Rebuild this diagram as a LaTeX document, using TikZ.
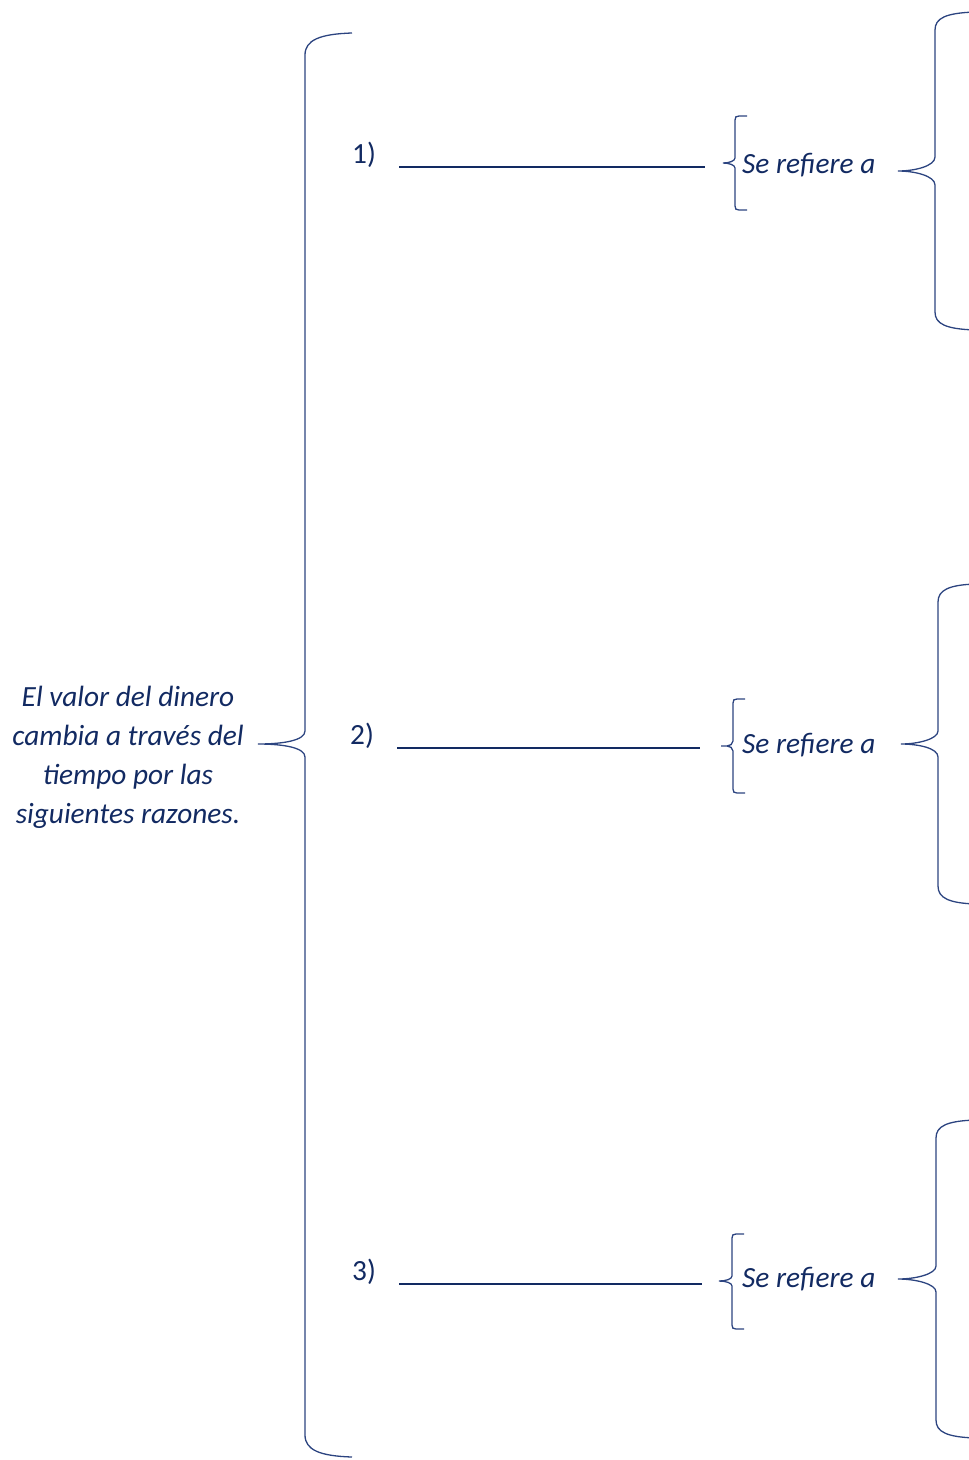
\documentclass[tikz,border=0pt]{standalone}
\usepackage{fontspec}
\setmainfont{Carlito}
\definecolor{ink}{RGB}{18,42,98}
\definecolor{bracecol}{RGB}{44,68,128}
\tikzset{
  bodytext/.style={text=ink, font=\fontsize{29.3}{39}\selectfont\itshape, inner sep=0pt},
  numtext/.style={text=ink, font=\fontsize{29.3}{39}\selectfont, inner sep=0pt, anchor=base west},
  refer/.style={text=ink, font=\fontsize{29.3}{39}\selectfont\itshape, inner sep=0pt, anchor=base west},
  blank/.style={draw=ink, line width=2.3pt},
  bracket/.style={draw=bracecol, line width=1.3pt},
}
\begin{document}
\begin{tikzpicture}[x=1pt,y=-1pt]
\useasboundingbox (0,0) rectangle (969,1460);

% main statement
\node[bodytext, align=center] (stmt) at (128,757)
  {El valor del dinero\\ cambia a través del\\ tiempo por las\\ siguientes razones.};

% large left brace grouping the three reasons
\coordinate (mainTip) at (258,744);
\draw[bracket] (352,33) .. controls (320,34) and (305,40) .. (305,55)
  -- (305,731) .. controls (305,740) and (285,744) .. (mainTip)
  .. controls (285,744) and (305,748) .. (305,757)
  -- (305,1435) .. controls (305,1450) and (320,1456) .. (352,1457);

% reason 1
\node[numtext] (n1) at (352,163) {1)};
\coordinate (b1s) at (399,167); \coordinate (b1e) at (705,167);
\draw[blank] (b1s) -- (b1e);
\coordinate (s1) at (723,163);
\draw[bracket] (747,116) -- (739,116) .. controls (736,116) and (735,117) .. (735,120)
  -- (735,158) .. controls (735,161) and (729,163) .. (s1)
  .. controls (729,163) and (735,165) .. (735,168)
  -- (735,206) .. controls (735,209) and (736,210) .. (739,210) -- (747,210);
\node[refer] (r1) at (742,173) {Se refiere a};
\coordinate (t1) at (898,171);
\draw[bracket] (975,12) .. controls (946,13) and (935,18) .. (935,30)
  -- (935,157) .. controls (935,166) and (915,171) .. (t1)
  .. controls (915,171) and (935,176) .. (935,185)
  -- (935,312) .. controls (935,324) and (946,329) .. (975,330);

% reason 2
\node[numtext] (n2) at (350,744) {2)};
\coordinate (b2s) at (397,748); \coordinate (b2e) at (700,748);
\draw[blank] (b2s) -- (b2e);
\coordinate (s2) at (721,746);
\draw[bracket] (745,699) -- (737,699) .. controls (734,699) and (733,700) .. (733,703)
  -- (733,741) .. controls (733,744) and (730,746) .. (727,746) -- (s2)
  (727,746) .. controls (730,746) and (733,748) .. (733,751)
  -- (733,789) .. controls (733,792) and (734,793) .. (737,793) -- (745,793);
\node[refer] (r2) at (742,753) {Se refiere a};
\coordinate (t2) at (901,744);
\draw[bracket] (975,584) .. controls (949,585) and (938,590) .. (938,602)
  -- (938,731) .. controls (938,739) and (918,744) .. (t2)
  .. controls (918,744) and (938,748) .. (938,757)
  -- (938,886) .. controls (938,898) and (949,903) .. (975,904);

% reason 3
\node[numtext] (n3) at (352,1280) {3)};
\coordinate (b3s) at (399,1284); \coordinate (b3e) at (702,1284);
\draw[blank] (b3s) -- (b3e);
\coordinate (s3) at (719,1281);
\draw[bracket] (744,1234) -- (736,1234) .. controls (733,1234) and (732,1235) .. (732,1238)
  -- (732,1276) .. controls (732,1279) and (726,1281) .. (s3)
  .. controls (726,1281) and (732,1283) .. (732,1286)
  -- (732,1325) .. controls (732,1328) and (733,1329) .. (736,1329) -- (744,1329);
\node[refer] (r3) at (742,1287) {Se refiere a};
\coordinate (t3) at (898,1279);
\draw[bracket] (975,1120) .. controls (947,1121) and (936,1126) .. (936,1138)
  -- (936,1266) .. controls (936,1274) and (916,1279) .. (t3)
  .. controls (916,1279) and (936,1284) .. (936,1292)
  -- (936,1420) .. controls (936,1432) and (947,1437) .. (975,1438);
\end{tikzpicture}
\end{document}
